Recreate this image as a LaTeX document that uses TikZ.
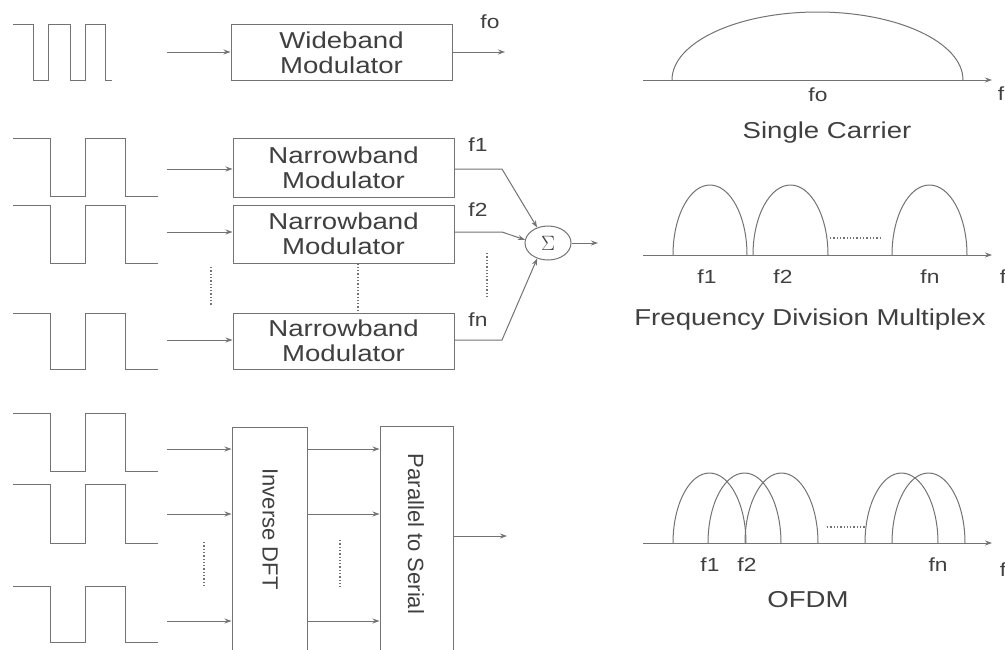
\documentclass[tikz,border=0pt]{standalone}
\usepackage{fontspec}
\setmainfont{Liberation Sans}
\newfontfamily\labfont[FakeStretch=1.2]{Liberation Sans}
\usetikzlibrary{arrows.meta,shapes.geometric}
\newcommand\pulsewave[3]{% x-start, top y, bottom y
  \draw[ln] (#1,#2) -- (50,#2) -- (50,#3) -- (85,#3) -- (85,#2) -- (125,#2) -- (125,#3) -- (158,#3);}
\begin{document}
\begin{tikzpicture}[x=1pt,y=-1pt,
  ln/.style={draw=black!55, line width=1pt},
  arr/.style={ln, -{Stealth[length=7pt,width=5pt]}},
  dots/.style={draw=black!55, line width=1.3pt, dotted},
  box/.style={ln, rectangle, inner sep=0pt, font=\labfont\fontsize{23}{25}\selectfont, align=center, text=black!75},
  lab/.style={font=\labfont\fontsize{19}{21}\selectfont, text=black!75, inner sep=0pt},
  big/.style={font=\labfont\fontsize{23}{25}\selectfont, text=black!75, inner sep=0pt},
  rot/.style={font=\fontsize{22}{24}\selectfont, text=black!75, inner sep=0pt, rotate=-90}]
\useasboundingbox (0,0) rectangle (1005,649);
\clip (0,0) rectangle (1005,649);
\fill[white] (0,0) rectangle (1005,649);

% ---------- wideband row ----------
\draw[ln] (13,24) -- (33,24) -- (33,80) -- (48,80) -- (48,24) -- (70,24) -- (70,80) -- (85,80) -- (85,24) -- (105,24) -- (105,80) -- (112,80);
\node[box, minimum width=221pt, minimum height=56pt] (wb) at (341.5,52.5) {Wideband\\Modulator};
\coordinate (wbin) at (167,52);
\coordinate (wbout) at (505,52);
\draw[arr] (wbin) -- (wbin -| wb.west);
\draw[arr] (wbout -| wb.east) -- (wbout);
\node[lab] (lfo) at (490,22) {fo};

% ---------- narrowband rows ----------
\pulsewave{13}{138}{196}
\pulsewave{13}{205}{263}
\pulsewave{13}{313}{369}
\node[box, minimum width=221pt, minimum height=59pt] (nb1) at (343.5,167.5) {Narrowband\\Modulator};
\node[box, minimum width=221pt, minimum height=58pt] (nb2) at (343.5,234) {Narrowband\\Modulator};
\node[box, minimum width=221pt, minimum height=56pt] (nb3) at (343.5,341) {Narrowband\\Modulator};
\coordinate (n1in) at (167,169);
\coordinate (n2in) at (167,232);
\coordinate (n3in) at (167,340);
\draw[arr] (n1in) -- (n1in -| nb1.west);
\draw[arr] (n2in) -- (n2in -| nb2.west);
\draw[arr] (n3in) -- (n3in -| nb3.west);
\coordinate (d1a) at (211,267);
\coordinate (d1b) at (211,305);
\draw[dots] (d1a) -- (d1b);
\draw[dots] (nb2.south -| 358,0) -- (nb3.north -| 358,0);

\node[ellipse, ln, minimum width=46pt, minimum height=34pt, inner sep=0pt, text=black!75, font=\fontsize{21}{23}\selectfont] (sig) at (548,243) {$\Sigma$};
\coordinate (k1) at (502,169);
\coordinate (k2) at (502,232);
\coordinate (k3) at (502,340);
\draw[arr] (nb1.east |- k1) -- (k1) -- (sig.125);
\draw[arr] (nb2.east |- k2) -- (k2) -- (sig.172);
\draw[arr] (nb3.east |- k3) -- (k3) -- (sig.235);
\coordinate (sigout) at (598,243);
\draw[arr] (sig.east) -- (sigout);
\draw[dots] (487,253) -- (487,298);
\node[lab] (lf1) at (478,145) {f1};
\node[lab] (lf2) at (478,210) {f2};
\node[lab] (lfn) at (478,320) {fn};

% ---------- OFDM rows ----------
\pulsewave{13}{413}{471}
\pulsewave{13}{484}{543}
\pulsewave{13}{586}{642}
\node[ln, rectangle, minimum width=75pt, minimum height=260pt, inner sep=0pt, anchor=north] (idft) at (269.5,427) {};
\node[ln, rectangle, minimum width=73pt, minimum height=260pt, inner sep=0pt, anchor=north] (ps) at (416.5,426) {};
\node[rot] (idftl) at (270,529) {Inverse DFT};
\node[rot] (psl) at (416,534) {Parallel to Serial};
\coordinate (o1) at (167,449);
\coordinate (o2) at (167,514);
\coordinate (o3) at (167,621);
\draw[arr] (o1) -- (o1 -| idft.west);
\draw[arr] (o2) -- (o2 -| idft.west);
\draw[arr] (o3) -- (o3 -| idft.west);
\draw[arr] (o1 -| idft.east) -- (o1 -| ps.west);
\draw[arr] (o2 -| idft.east) -- (o2 -| ps.west);
\draw[arr] (o3 -| idft.east) -- (o3 -| ps.west);
\coordinate (psout) at (507,536);
\draw[arr] (psout -| ps.east) -- (psout);
\draw[dots] (204,542) -- (204,587);
\draw[dots] (340,540) -- (340,587);

% ---------- single carrier spectrum ----------
\coordinate (ax1a) at (643,80);
\coordinate (ax1b) at (992,80);
\draw[arr] (ax1a) -- (ax1b);
\draw[ln] (672,80) arc[start angle=180,end angle=0,x radius=145.5pt,y radius=68pt];
\node[lab] (sfo) at (818,95) {fo};
\node[lab] (sf) at (1001,94) {f};
\node[big] (sct) at (827,133) {Single Carrier};

% ---------- FDM spectrum ----------
\coordinate (ax2a) at (643,255);
\coordinate (ax2b) at (992,255);
\draw[arr] (ax2a) -- (ax2b);
\draw[ln] (673,255) arc[start angle=180,end angle=0,x radius=37pt,y radius=70pt];
\draw[ln] (753,255) arc[start angle=180,end angle=0,x radius=37.5pt,y radius=70pt];
\draw[ln] (892,255) arc[start angle=180,end angle=0,x radius=37.5pt,y radius=70pt];
\draw[dots] (830,238) -- (882,238);
\node[lab] (ff1) at (707,277) {f1};
\node[lab] (ff2) at (783,277) {f2};
\node[lab] (ffn) at (930,277) {fn};
\node[lab] (ff) at (1003,277) {f};
\node[big] (fdt) at (810,320) {Frequency Division Multiplex};

% ---------- OFDM spectrum ----------
\coordinate (ax3a) at (643,543);
\coordinate (ax3b) at (992,543);
\draw[arr] (ax3a) -- (ax3b);
\foreach \s in {673,708,745,865,892}
  \draw[ln] (\s,543) arc[start angle=180,end angle=0,x radius=36.5pt,y radius=70pt];
\draw[dots] (827,527) -- (865,527);
\node[lab] (of1) at (710,565) {f1};
\node[lab] (of2) at (747,565) {f2};
\node[lab] (ofn) at (938,565) {fn};
\node[lab] (of) at (1003,570) {f};
\node[big] (oft) at (808,600) {OFDM};
\end{tikzpicture}
\end{document}
